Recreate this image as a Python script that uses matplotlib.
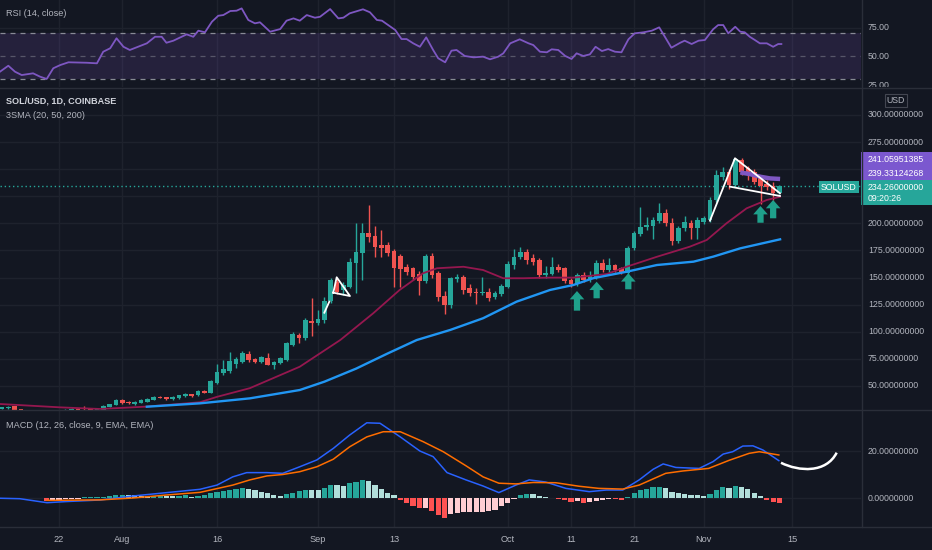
import numpy as np
import matplotlib
matplotlib.use("Agg")
import matplotlib.pyplot as plt
from matplotlib.patches import Rectangle, PathPatch
from matplotlib.path import Path
from matplotlib.lines import Line2D
from matplotlib.transforms import blended_transform_factory, Bbox, TransformedBbox

plt.rcParams['font.family'] = ['Liberation Sans', 'DejaVu Sans']

# %% Data (day index: 0 = 12 Jul 2021)
OPEN = [
    29.2, 29.8, 31.5, 28.5, 27.6, 26.4, 26.0, 26.6, 24.8, 23.6,
    27.0, 28.2, 29.0, 28.9, 28.4, 28.0, 28.0, 31.0, 32.5, 37.0,
    35.3, 33.4, 34.6, 35.5, 37.2, 39.8, 39.6, 37.7, 38.5, 40.5,
    42.2, 41.5, 45.4, 44.0, 53.0, 62.0, 63.7, 70.0, 72.0, 79.6,
    75.0, 72.0, 76.0, 69.4, 70.9, 74.0, 88.0, 97.0, 94.0, 110.0,
    107.8, 111.0, 128.4, 146.3, 138.6, 141.6, 163.7, 173.0, 191.4, 188.4,
    180.0, 180.0, 174.5, 170.2, 159.4, 158.5, 153.3, 147.1, 170.2, 154.0,
    133.0, 124.7, 148.4, 150.8, 140.0, 137.0, 135.5, 137.0, 131.8, 134.9,
    141.6, 161.6, 169.3, 174.0, 167.8, 166.2, 152.4, 153.3, 160.0, 158.5,
    147.8, 144.1, 152.4, 148.4, 150.8, 163.8, 157.0, 161.6, 158.5, 154.0,
    177.0, 190.2, 196.4, 197.6, 202.5, 210.0, 200.2, 184.0, 195.6, 200.7,
    195.6, 201.5, 203.1, 221.6, 243.1, 247.7, 235.4, 258.5, 250.7, 247.0,
    242.0, 236.0, 234.6, 228.5]
HIGH = [
    31.0, 31.4, 32.0, 29.0, 27.7, 27.0, 27.2, 27.0, 25.2, 27.5,
    28.8, 29.6, 29.5, 31.5, 29.2, 29.0, 32.2, 33.8, 37.6, 37.8,
    36.0, 36.2, 37.6, 38.6, 40.6, 41.0, 40.2, 40.8, 41.8, 43.2,
    42.8, 46.0, 46.0, 55.2, 70.0, 74.0, 81.0, 77.0, 82.0, 82.0,
    76.0, 78.0, 80.0, 73.0, 77.0, 91.0, 100.0, 99.0, 113.0, 131.0,
    120.0, 132.0, 150.0, 150.0, 146.0, 168.0, 200.0, 200.0, 217.0, 197.6,
    194.0, 183.0, 176.0, 172.0, 163.0, 160.0, 156.0, 172.0, 173.0, 156.0,
    138.0, 151.0, 153.0, 152.0, 144.0, 140.0, 151.0, 140.0, 138.0, 144.0,
    165.0, 176.0, 178.0, 176.0, 172.0, 168.0, 161.0, 169.0, 163.0, 160.0,
    150.0, 154.0, 155.0, 156.0, 166.0, 167.0, 168.0, 163.0, 160.0, 179.0,
    193.0, 215.0, 206.0, 206.0, 219.0, 213.0, 205.0, 198.0, 207.0, 203.0,
    206.0, 207.0, 224.0, 249.0, 252.0, 250.0, 260.0, 260.0, 253.0, 250.0,
    244.0, 240.0, 238.0, 235.5]
LOW = [
    28.6, 29.2, 27.0, 26.8, 26.0, 25.5, 25.6, 24.5, 22.8, 23.4,
    26.8, 27.8, 28.0, 28.0, 27.7, 27.6, 27.8, 30.6, 32.2, 33.8,
    33.6, 32.8, 34.2, 35.0, 36.8, 38.8, 37.2, 37.4, 38.2, 40.2,
    40.0, 41.0, 43.6, 43.6, 52.0, 60.0, 62.0, 67.0, 71.0, 72.0,
    71.0, 71.0, 69.0, 66.0, 70.0, 73.5, 87.0, 90.0, 92.0, 96.0,
    106.0, 108.0, 127.0, 135.0, 134.0, 140.0, 136.0, 148.0, 183.0, 169.3,
    169.0, 170.0, 141.6, 141.0, 152.0, 148.0, 134.0, 145.0, 150.0, 128.0,
    116.4, 122.0, 146.0, 135.0, 133.0, 126.0, 134.0, 128.0, 130.0, 133.0,
    140.0, 158.0, 167.0, 163.0, 162.0, 150.0, 150.0, 152.0, 155.0, 145.0,
    141.0, 142.0, 146.0, 146.0, 149.0, 155.0, 155.0, 155.0, 153.0, 152.0,
    175.0, 188.0, 194.0, 186.0, 200.0, 198.0, 180.0, 182.0, 193.0, 186.0,
    186.0, 199.0, 201.0, 220.0, 240.0, 232.0, 234.0, 245.0, 240.0, 236.0,
    218.0, 231.0, 222.0, 227.0]
CLOSE = [
    30.4, 30.9, 27.5, 27.6, 26.4, 26.0, 26.6, 24.8, 23.6, 27.0,
    28.3, 29.0, 28.3, 28.4, 28.0, 28.6, 31.6, 33.2, 37.0, 34.2,
    34.2, 35.4, 37.0, 38.0, 40.0, 39.2, 37.7, 40.2, 41.3, 42.7,
    40.4, 45.4, 44.0, 54.6, 63.2, 65.7, 73.0, 75.0, 80.0, 73.8,
    72.0, 77.0, 69.5, 72.4, 75.5, 89.4, 98.0, 94.0, 110.9, 107.8,
    111.5, 128.4, 147.8, 137.0, 143.0, 164.7, 173.9, 191.4, 187.7, 178.5,
    177.0, 173.0, 158.6, 158.0, 155.4, 150.8, 147.1, 170.2, 152.4, 131.8,
    124.7, 149.3, 150.8, 138.6, 136.0, 135.5, 137.0, 130.9, 136.0, 142.3,
    162.5, 169.3, 174.0, 166.2, 164.7, 152.4, 154.0, 159.5, 157.0, 147.1,
    144.1, 152.4, 147.8, 151.5, 163.8, 157.0, 161.6, 157.0, 155.4, 177.0,
    190.9, 196.4, 198.5, 203.0, 209.3, 200.2, 183.3, 195.6, 201.5, 195.6,
    203.5, 204.7, 221.6, 244.6, 247.7, 235.4, 259.0, 247.7, 244.6, 238.4,
    234.4, 234.0, 228.5, 234.26]

SMA20_DAYS = [0.66, 10.2, 16.5, 23.9, 32.3, 35.0, 40.2, 48.1, 54.5, 59.7, 63.9, 67.6, 69.8, 74.0,
              77.1, 80.3, 83.5, 87.7, 91.4, 96.7, 99.8, 104.6, 109.8, 112.5, 115.6, 118.8, 122.0, 124.1]
SMA20_VALS = [33.4, 30.3, 28.8, 31.0, 35.0, 40.0, 48.0, 67.8, 92.4, 117.0, 138.6, 154.0, 158.6, 160.0,
              157.0, 149.4, 149.4, 150.0, 150.0, 153.3, 160.0, 169.2, 178.5, 184.7, 200.0, 213.9, 221.6, 224.6]
SMA50_DAYS = [23.9, 32.3, 40.2, 48.1, 52.0, 57.0, 62.0, 66.6, 71.9, 77.1, 82.4, 87.7, 91.4, 94.5,
              99.8, 104.6, 110.4, 113.5, 117.8, 124.1]
SMA50_VALS = [30.9, 34.0, 38.6, 46.3, 54.0, 66.0, 80.0, 92.4, 101.7, 112.5, 127.8, 138.6, 143.2, 149.4,
              155.4, 161.6, 164.7, 169.3, 177.0, 185.3]

PURPLE_DAYS = [117.8, 119.3, 121.0, 122.5, 124.1]
PURPLE_VALS = [247.0, 245.5, 243.0, 241.5, 241.0]

# white drawings on the price pane
DRAW_SEP_DAYS = [51.98, 52.77]
DRAW_SEP_VALS = [117.6, 127.8]
TRI_DAYS = [53.4, 53.94, 56.04, 53.4]
TRI_VALS = [136.1, 150.3, 133.0, 136.1]
WEDGE_UP_DAYS = [113.0, 116.96, 124.08]
WEDGE_UP_VALS = [202.5, 260.1, 227.8]
WEDGE_LO_DAYS = [116.17, 124.08]
WEDGE_LO_VALS = [233.9, 225.3]

ARROW_DAYS = [91.96, 95.07, 100.08, 121.0, 123.0]
ARROW_TIPS = [137.6, 146.2, 154.0, 216.0, 221.6]
ARROW_BASES = [119.5, 130.9, 139.2, 200.6, 204.7]

RSI_DAYS = [0.66, 1.98, 3.04, 4.1, 5.9, 7.0, 8.05, 9.1, 10.2, 11.5,
            14.4, 16.0, 17.0, 18.1, 19.1, 20.2, 21.2, 23.9, 25.2, 26.25,
            27.0, 28.1, 29.4, 30.2, 31.25, 32.05, 33.1, 34.2, 35.2, 36.0,
            37.1, 38.1, 38.9, 39.95, 41.0, 41.8, 43.4, 45.0, 46.0, 47.1,
            48.1, 49.2, 50.5, 51.3, 52.9, 54.2, 55.0, 56.0, 58.1, 59.2,
            60.3, 61.1, 61.85, 63.2, 64.2, 65.0, 66.05, 67.1, 68.1, 69.2,
            70.0, 71.1, 72.1, 72.9, 74.2, 75.6, 77.1, 78.2, 79.5, 80.3,
            81.4, 82.9, 84.3, 85.05, 86.1, 87.2, 87.96, 89.0, 90.1, 91.1,
            91.9, 92.96, 94.0, 94.9, 95.9, 96.9, 97.97, 99.0, 100.1, 101.1,
            102.5, 103.8, 104.97, 106.9, 108.3, 109.0, 110.1, 111.2, 112.2, 113.5,
            114.3, 115.1, 115.9, 117.0, 117.8, 118.5, 119.3, 120.1, 120.9, 122.0,
            123.0, 123.8, 124.3]
RSI_VALS = [36.6, 41.8, 36.6, 33.7, 35.2, 32.3, 30.3, 39.6, 42.4, 44.8,
            44.4, 43.9, 54.0, 57.0, 65.7, 58.3, 55.5, 61.3, 67.0, 67.0,
            61.8, 63.6, 67.0, 69.1, 67.0, 72.3, 70.9, 80.1, 85.3, 85.9,
            89.4, 89.7, 91.7, 81.6, 78.7, 79.6, 71.4, 73.7, 81.0, 83.0,
            81.0, 85.9, 83.6, 84.4, 91.1, 83.0, 83.6, 87.4, 90.9, 88.3,
            81.6, 81.0, 78.1, 72.9, 65.0, 65.0, 61.3, 58.3, 66.5, 55.5,
            48.3, 44.8, 54.9, 55.5, 50.3, 49.1, 49.7, 47.4, 49.7, 52.6,
            61.3, 64.8, 61.3, 59.8, 54.0, 53.5, 56.1, 55.5, 50.3, 47.7,
            52.6, 50.3, 51.7, 58.3, 54.6, 56.3, 54.0, 53.5, 64.8, 70.0,
            70.9, 72.3, 75.2, 57.5, 61.8, 63.6, 60.7, 63.6, 64.2, 73.5,
            77.2, 77.2, 70.0, 75.7, 71.4, 70.9, 67.0, 64.2, 61.3, 61.3,
            58.3, 60.7, 60.7]

MACD_DAYS = [0.66, 3.8, 8.1, 11.3, 16.5, 21.7, 27.1, 32.3, 35.0, 37.5,
             39.7, 42.9, 45.4, 48.1, 50.8, 53.4, 56.0, 58.7, 60.8, 64.0,
             67.1, 69.2, 71.4, 74.4, 77.1, 79.6, 82.3, 84.4, 87.0, 90.2,
             93.9, 96.6, 99.2, 101.8, 104.0, 105.6, 107.6, 111.3, 113.5, 115.1,
             116.6, 118.2, 119.8, 121.4, 123.9]
MACD_VALS = [-0.1, -0.3, -2.0, -1.5, -0.85, 0.85, 2.3, 3.7, 5.5, 9.0,
             10.8, 10.8, 10.5, 13.3, 16.2, 21.1, 26.8, 32.0, 31.8, 26.0,
             20.0, 17.6, 10.8, 7.7, 5.1, 2.3, 5.5, 7.7, 6.8, 4.1,
             2.7, 3.4, 3.4, 7.7, 12.2, 14.5, 13.0, 12.6, 15.5, 18.7,
             19.7, 22.1, 22.2, 20.4, 15.9]
SIGNAL_DAYS = [8.1, 16.5, 21.7, 27.1, 32.3, 37.5, 40.2, 42.9, 45.4, 48.1,
               50.8, 53.4, 56.0, 58.7, 61.3, 64.0, 67.6, 70.8, 74.4, 77.1,
               79.6, 82.3, 85.0, 88.6, 92.3, 95.4, 99.2, 101.8, 106.0, 108.7,
               112.8, 116.0, 119.2, 120.8, 123.9]
SIGNAL_VALS = [-1.0, -0.8, 0.0, 1.3, 2.4, 5.5, 7.7, 9.4, 10.0, 11.2,
               13.3, 16.5, 21.8, 26.0, 28.2, 28.2, 24.0, 19.7, 13.7, 9.0,
               6.3, 6.0, 6.6, 6.5, 5.0, 4.1, 3.8, 5.5, 10.5, 11.5,
               12.6, 16.0, 19.0, 19.7, 18.3]
HIST_START = 8
HIST_VALS = [
    -1.3, -0.9, -0.7, -0.6, -0.4, -0.3, 0.3, 0.4, 0.5, 0.6,
    0.8, 1.2, 1.4, 1.2, 1.1, 1.0, 0.9, 1.0, 1.1, 0.9,
    0.8, 1.0, 1.2, 0.6, 0.8, 1.3, 2.0, 2.6, 3.0, 3.4,
    4.0, 4.3, 3.8, 3.2, 2.6, 2.0, 1.3, 1.0, 1.8, 2.3,
    3.0, 3.6, 3.5, 3.4, 4.3, 5.6, 5.4, 5.2, 6.4, 6.9,
    7.5, 7.3, 5.6, 4.0, 2.2, 1.4, -1.0, -2.2, -3.4, -4.4,
    -4.3, -5.6, -7.2, -8.6, -6.6, -6.2, -6.0, -5.9, -5.9, -5.8,
    -5.6, -5.0, -3.6, -2.0, -0.3, 1.4, 1.6, 1.5, 0.7, 0.3,
    0.1, -0.4, -0.8, -1.5, -1.3, -2.0, -1.6, -1.1, -0.8, -0.5,
    -0.6, -0.7, 0.6, 2.0, 3.3, 3.9, 4.5, 4.8, 4.2, 2.6,
    2.1, 1.8, 1.4, 1.3, 1.0, 1.8, 3.6, 4.6, 4.3, 5.0,
    4.6, 3.7, 2.3, 1.0, -0.7, -1.5, -2.2]
# hand-drawn arc in the MACD pane (cubic bezier control points)
ARC_DAYS = [124.24, 127.1, 131.4, 133.05]
ARC_VALS = [15.0, 11.2, 10.5, 19.3]

DATE_TICKS = [10, 20, 35, 51, 63, 81, 91, 101, 112, 126]
DATE_LABELS = ["22", "Aug", "16", "Sep", "13", "Oct", "11", "21", "Nov", "15"]
PRICE_TICKS = [300, 275, 200, 175, 150, 125, 100, 75, 50]

# %% Style
BG = "#131722"
GRID = "#1e222d"
SEP = "#2a2e39"
TXT = "#b2b5be"
UP = "#26a69a"
DOWN = "#ef5350"
PURPLE = "#7e57c2"
W, H = 932, 550
X_LIM = (0.665, 136.9)
FS = 6.6      # legends and dates
FS_AX = 6.3   # price scale

fig = plt.figure(figsize=(W / 100, H / 100), dpi=100, facecolor=BG)


def pane(top, bottom):
    ax = fig.add_axes([0, (H - bottom) / H, 861 / W, (bottom - top) / H])
    ax.set_facecolor(BG)
    for s in ax.spines.values():
        s.set_visible(False)
    ax.set_xticks([])
    ax.set_yticks([])
    ax.set_xlim(*X_LIM)
    for d in DATE_TICKS:
        ax.axvline(d, color=GRID, lw=1, zorder=0)
    return ax


ax_rsi = pane(0, 87)
ax_p = pane(88, 410)
ax_m = pane(410, 527)

ax_rsi.set_ylim(23.3, 99.0)
ax_p.set_ylim(27.86, 324.9)
ax_m.set_ylim(-12.34, 37.45)


def px_text(x, y, s, **kw):
    return fig.text(x / W, 1 - y / H, s, **kw)


def px_rect(x0, y0, x1, y1, **kw):
    fig.add_artist(Rectangle((x0 / W, 1 - y1 / H), (x1 - x0) / W, (y1 - y0) / H,
                             transform=fig.transFigure, **kw))


def right_label(ax, v, s, clip=None):
    t = ax.text(1 + 7 / 861, v, s, transform=blended_transform_factory(ax.transAxes, ax.transData),
                color=TXT, fontsize=FS_AX, va="center", ha="left")
    if clip is not None:
        t.set_clip_on(True)
        t.set_clip_box(clip)


# %% RSI pane
ax_rsi.axhline(75, color=GRID, lw=1, zorder=0)
ax_rsi.axhspan(30, 70, color=PURPLE, alpha=0.17, lw=0)
for lvl, a in [(70, 0.9), (50, 0.45), (30, 0.9)]:
    ax_rsi.axhline(lvl, color="#9598a1", ls=(0, (4, 4)), lw=0.9, alpha=a)
ax_rsi.plot(RSI_DAYS, RSI_VALS, color="#7e57c2", lw=1.3)
rsi_clip = TransformedBbox(Bbox([[0, (H - 87) / H], [1, 1]]), fig.transFigure)
for v in [75, 50, 25]:
    right_label(ax_rsi, v, f"{v:.2f}", clip=rsi_clip)

# %% Price pane
for v in range(50, 325, 25):
    ax_p.axhline(v, color=GRID, lw=1, zorder=0)

days = np.arange(1, len(CLOSE) + 1)
o, h, l, c = map(np.array, (OPEN, HIGH, LOW, CLOSE))
cols = np.where(c >= o, UP, DOWN)
ax_p.vlines(days, l, h, colors=cols, lw=1, zorder=2)
ax_p.bar(days, np.maximum(np.abs(c - o), 0.6), bottom=np.minimum(o, c), width=0.74,
         color=cols, lw=0, zorder=2)

ax_p.axhline(CLOSE[-1], color=UP, ls=(0, (1, 2)), lw=1, zorder=1)
ax_p.plot(SMA20_DAYS, SMA20_VALS, color="#95174f", lw=1.3, zorder=3)
ax_p.plot(SMA50_DAYS, SMA50_VALS, color="#2196f3", lw=1.7, zorder=3)
ax_p.plot(PURPLE_DAYS, PURPLE_VALS, color=PURPLE, lw=3.2, solid_capstyle="butt", zorder=4)

for xs, ys in [(DRAW_SEP_DAYS, DRAW_SEP_VALS), (TRI_DAYS, TRI_VALS),
               (WEDGE_UP_DAYS, WEDGE_UP_VALS), (WEDGE_LO_DAYS, WEDGE_LO_VALS)]:
    ax_p.plot(xs, ys, color="white", lw=1.3, zorder=5)

for d, tip, base in zip(ARROW_DAYS, ARROW_TIPS, ARROW_BASES):
    ax_p.annotate("", xy=(d, tip), xytext=(d, base), zorder=6,
                  arrowprops=dict(arrowstyle="simple,head_length=0.6,head_width=1.05,tail_width=0.45",
                                  mutation_scale=10, color="#1fa08b", lw=0, shrinkA=0, shrinkB=0))

for v in PRICE_TICKS:
    right_label(ax_p, v, f"{v:.8f}")

# %% MACD pane
ax_m.axhline(20, color=GRID, lw=1, zorder=0)
ax_m.axhline(0, color=GRID, lw=1, zorder=0)
hist = np.array(HIST_VALS)
hist_days = np.arange(HIST_START, HIST_START + len(hist))
hcols = []
for i, v in enumerate(hist):
    prev = hist[i - 1] if i > 0 else v
    if v >= 0:
        hcols.append("#26a69a" if v > prev or i == 0 else "#b2dfdb")
    else:
        hcols.append("#ff5252" if v < prev or i == 0 else "#ffcdd2")
ax_m.bar(hist_days, hist, width=0.82, color=hcols, lw=0, zorder=2)
ax_m.plot(MACD_DAYS, MACD_VALS, color="#2962ff", lw=1.1, zorder=3)
ax_m.plot(SIGNAL_DAYS, SIGNAL_VALS, color="#ff6d00", lw=1.1, zorder=3)
arc = Path(list(zip(ARC_DAYS, ARC_VALS)), [Path.MOVETO, Path.CURVE4, Path.CURVE4, Path.CURVE4])
ax_m.add_patch(PathPatch(arc, fc="none", ec="white", lw=1.8, zorder=4))
for v in [20, 0]:
    right_label(ax_m, v, f"{v:.8f}")

date_tr = blended_transform_factory(ax_m.transData, fig.transFigure)
for d, s in zip(DATE_TICKS, DATE_LABELS):
    ax_m.text(d, 1 - 539 / H, s, transform=date_tr, color=TXT, fontsize=FS, ha="center", va="center")

# %% Pane separators and right scale border
for y in [87.5, 410, 527]:
    fig.add_artist(Line2D([0, 1], [1 - y / H] * 2, color=SEP, lw=1, transform=fig.transFigure))
fig.add_artist(Line2D([861.5 / W] * 2, [1 - 527 / H, 1], color=SEP, lw=1, transform=fig.transFigure))

# %% Legends / headers
px_text(6, 13, "RSI (14, close)", color=TXT, fontsize=FS, va="center")
px_text(6, 101, "SOL/USD, 1D, COINBASE", color="#d1d4dc", fontsize=FS, fontweight="bold", va="center")
px_text(6, 115, "3SMA (20, 50, 200)", color=TXT, fontsize=FS, va="center")
px_text(6, 425, "MACD (12, 26, close, 9, EMA, EMA)", color=TXT, fontsize=FS, va="center")

# %% Price-scale badges
px_rect(885, 94, 907, 107, fc=BG, ec="#434651", lw=0.8)
px_text(896, 100.5, "USD", color=TXT, fontsize=FS_AX, ha="center", va="center")
px_rect(861, 152, 932, 166, fc="#7b58cf", lw=0)
px_text(868, 159, "241.05951385", color="white", fontsize=FS_AX, va="center")
px_rect(861, 166.5, 932, 179.5, fc="#7b58cf", lw=0)
px_text(868, 173, "239.33124268", color="white", fontsize=FS_AX, va="center")
px_rect(861, 180, 932, 205, fc=UP, lw=0)
px_text(868, 187, f"{CLOSE[-1]:.8f}", color="white", fontsize=FS_AX, va="center")
px_text(868, 198.5, "09:20:26", color="white", fontsize=FS_AX, va="center")
px_rect(819, 181.5, 859, 193, fc=UP, lw=0)
px_text(839, 187.2, "SOLUSD", color="white", fontsize=FS_AX, ha="center", va="center")

fig.savefig("out.png", dpi=100, facecolor=BG)
